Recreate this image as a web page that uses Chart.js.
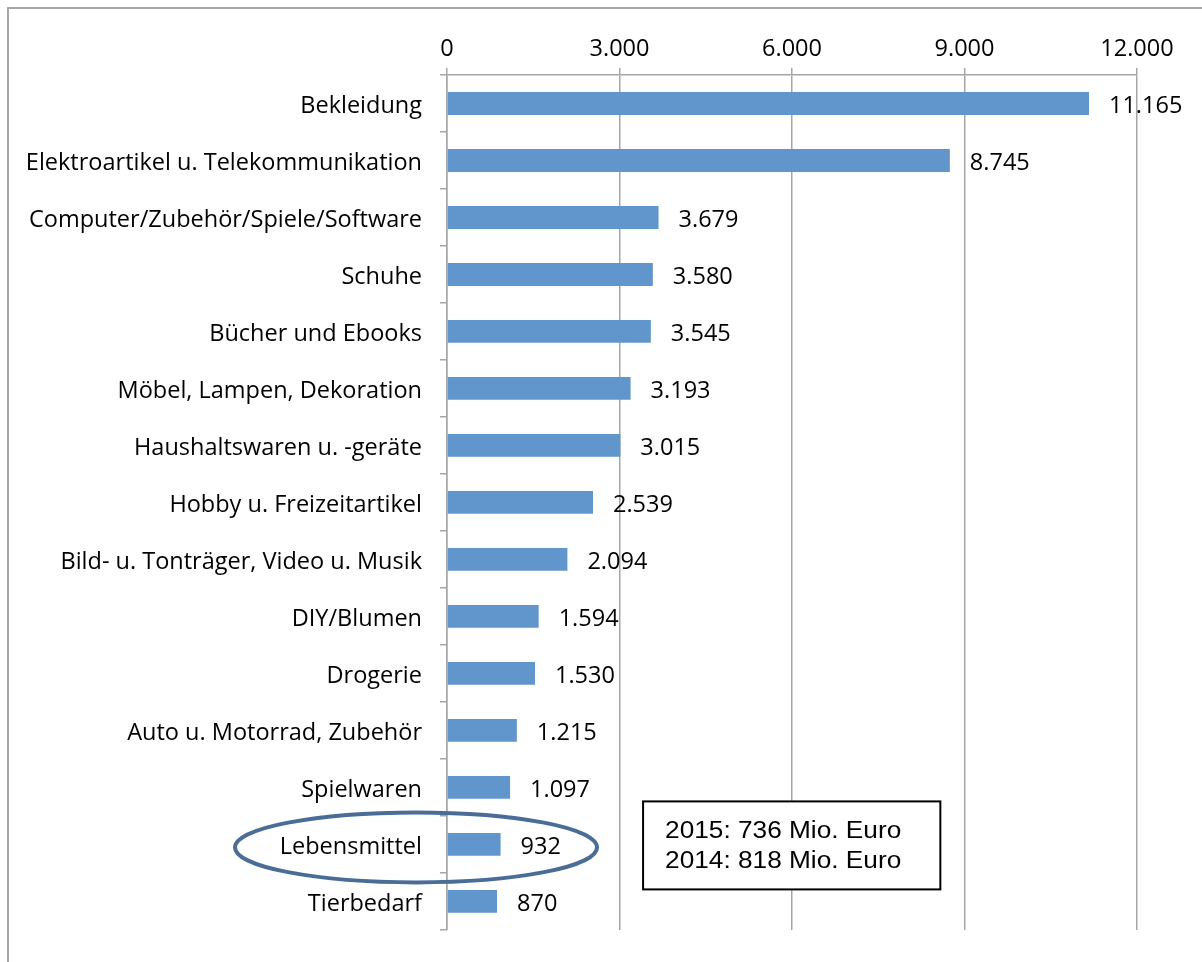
<!DOCTYPE html>
<html><head><meta charset="utf-8">
<script src="https://cdn.jsdelivr.net/npm/chart.js@4.4.1/dist/chart.umd.min.js"></script>
<style>html,body{margin:0;padding:0;background:#fff;}#wrap{width:1202px;height:962px;position:relative;}</style>
</head><body><div id="wrap"><canvas id="c" width="1202" height="962"></canvas></div>
<script>
const categories = ["Bekleidung","Elektroartikel u. Telekommunikation","Computer/Zubehör/Spiele/Software","Schuhe","Bücher und Ebooks","Möbel, Lampen, Dekoration","Haushaltswaren u. -geräte","Hobby u. Freizeitartikel","Bild- u. Tonträger, Video u. Musik","DIY/Blumen","Drogerie","Auto u. Motorrad, Zubehör","Spielwaren","Lebensmittel","Tierbedarf"];
const values = [11165,8745,3679,3580,3545,3193,3015,2539,2094,1594,1530,1215,1097,932,870];
const tickValues = [0,3000,6000,9000,12000];
const noteLines = ["2015: 736 Mio. Euro","2014: 818 Mio. Euro"];
const highlightCategory = "Lebensmittel";

const fmt = v => v.toLocaleString('de-DE');
const FAMILY = '"Open Sans"';
const FSIZE = 23.5;

const deco = {
  id:'deco',
  beforeDraw(chart){
    const ctx = chart.ctx;
    ctx.save();
    ctx.fillStyle='#fff'; ctx.fillRect(0,0,chart.width,chart.height);
    ctx.strokeStyle='#a6a6a6'; ctx.lineWidth=2;
    ctx.beginPath(); ctx.moveTo(8,chart.height); ctx.lineTo(8,8); ctx.lineTo(chart.width,8); ctx.stroke();
    ctx.restore();
  },
  afterDatasetsDraw(chart){
    const ctx = chart.ctx, xs = chart.scales.x, ys = chart.scales.y;
    const meta = chart.getDatasetMeta(0);
    ctx.save();
    ctx.font = FSIZE + 'px ' + FAMILY; ctx.fillStyle='#000'; ctx.textBaseline='middle'; ctx.textAlign='left';
    meta.data.forEach((bar,i)=>{
      ctx.fillText(fmt(values[i]), bar.x + 20, bar.y + 3);
    });
    // ellipse
    const hi = categories.indexOf(highlightCategory);
    const cy = ys.getPixelForValue(hi) + 3;
    const cx = xs.left - 31;
    ctx.strokeStyle='#4a6d98'; ctx.lineWidth=4;
    ctx.beginPath(); ctx.ellipse(cx, cy, 181, 35, 0, 0, Math.PI*2); ctx.stroke();
    // note box
    const bx1 = xs.getPixelForValue(3410), bx2 = xs.getPixelForValue(8580);
    const by1 = ys.getPixelForValue(hi) - 43, by2 = ys.getPixelForValue(hi) + 45;
    ctx.fillStyle='#fff'; ctx.fillRect(bx1,by1,bx2-bx1,by2-by1);
    ctx.strokeStyle='#000'; ctx.lineWidth=2; ctx.strokeRect(bx1,by1,bx2-bx1,by2-by1);
    ctx.fillStyle='#000'; ctx.font='23px "Liberation Sans"'; ctx.textBaseline='middle';
    noteLines.forEach((t,k)=>{
      ctx.save();
      ctx.translate(bx1+22, by1+30+k*30);
      ctx.scale(1.14,1);
      ctx.fillText(t, 0, 0);
      ctx.restore();
    });
    ctx.restore();
  }
};

new Chart(document.getElementById('c'),{
  type:'bar',
  data:{labels:categories,datasets:[{data:values,backgroundColor:'#6096cb',borderWidth:0,barPercentage:0.4,categoryPercentage:1}]},
  options:{
    indexAxis:'y',responsive:false,animation:false,
    layout:{padding:{left:0,right:65,top:0,bottom:27}},
    plugins:{legend:{display:false},tooltip:{enabled:false}},
    scales:{
      x:{position:'top',min:0,max:12000,
        afterBuildTicks(s){s.ticks=tickValues.map(v=>({value:v}));},
        afterFit(s){s.height=75;},
        ticks:{font:{family:FAMILY,size:FSIZE},color:'#000',padding:5,callback:v=>fmt(v),maxRotation:0},
        grid:{color:'#a6a6a6',lineWidth:1.5,tickLength:7},
        border:{color:'#a6a6a6',width:1.5}},
      y:{
        afterFit(s){s.width=447;},
        ticks:{font:{family:FAMILY,size:FSIZE},color:'#000',padding:18,labelOffset:3},
        grid:{drawOnChartArea:false,color:'#a6a6a6',lineWidth:1.5,tickLength:7},
        border:{color:'#a6a6a6',width:1.5}}
    }
  },
  plugins:[deco]
});
</script></body></html>
